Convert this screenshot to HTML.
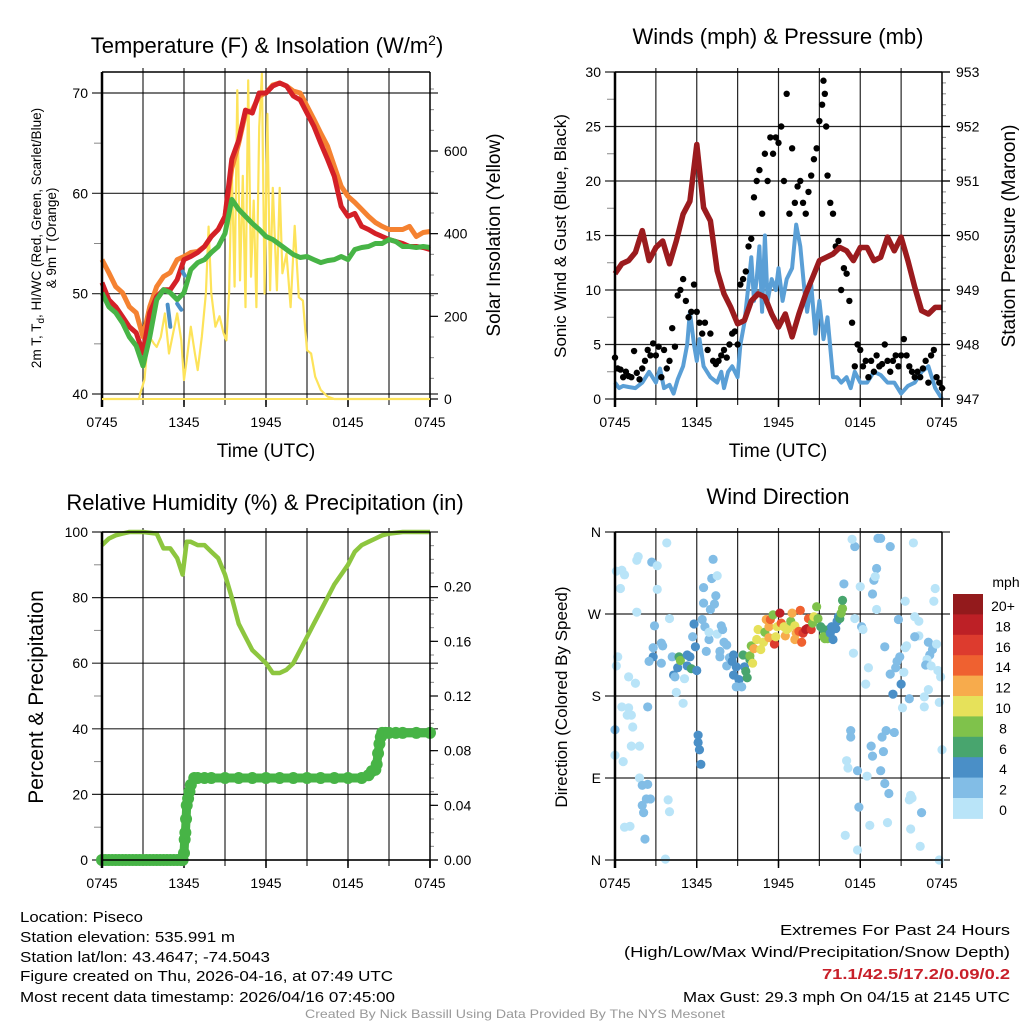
<!DOCTYPE html>
<html><head><meta charset="utf-8"><style>
html,body{margin:0;padding:0;background:#fff;}
svg{display:block;font-family:"Liberation Sans",sans-serif;}
</style></head><body>
<svg id="fig" width="1024" height="1024" viewBox="0 0 1024 1024" xmlns="http://www.w3.org/2000/svg">
<g id="layer"></g>
<g font-size="15" fill="#000">
<text x="20" y="922" textLength="123" lengthAdjust="spacingAndGlyphs">Location: Piseco</text>
<text x="20" y="942" textLength="215" lengthAdjust="spacingAndGlyphs">Station elevation: 535.991 m</text>
<text x="20" y="962" textLength="250" lengthAdjust="spacingAndGlyphs">Station lat/lon: 43.4647; -74.5043</text>
<text x="20" y="981" textLength="373" lengthAdjust="spacingAndGlyphs">Figure created on Thu, 2026-04-16, at 07:49 UTC</text>
<text x="20" y="1002" textLength="375" lengthAdjust="spacingAndGlyphs">Most recent data timestamp: 2026/04/16 07:45:00</text>
</g>
<g font-size="15" fill="#000">
<text x="780" y="935" textLength="230" lengthAdjust="spacingAndGlyphs">Extremes For Past 24 Hours</text>
<text x="624" y="957" textLength="386" lengthAdjust="spacingAndGlyphs">(High/Low/Max Wind/Precipitation/Snow Depth)</text>
<text x="822" y="979" textLength="188" lengthAdjust="spacingAndGlyphs" font-weight="bold" fill="#c8202a">71.1/42.5/17.2/0.09/0.2</text>
<text x="683" y="1002" textLength="327" lengthAdjust="spacingAndGlyphs">Max Gust: 29.3 mph On 04/15 at 2145 UTC</text>
</g>
<text x="515" y="1018" text-anchor="middle" font-size="12" fill="#999" textLength="420" lengthAdjust="spacingAndGlyphs">Created By Nick Bassill Using Data Provided By The NYS Mesonet</text>
</svg>
<script>
// ---------- DATA ----------
const xTickLabels = ["0745","1345","1945","0145","0745"];
// Panel 1 (hours since 0745 UTC)
const tHours = [0,0.5,1,1.5,2,2.5,3,3.5,4,4.5,5,5.5,6,6.5,7,7.5,8,8.5,9,9.5,10,10.5,11,11.5,12,12.5,13,13.5,14,14.5,15,15.5,16,16.5,17,17.5,18,18.5,19,19.5,20,20.5,21,21.5,22,22.5,23,23.5,24];
const temp2m = [51.1,49.4,48.7,47.7,46.7,46.1,44.1,48.1,49.7,50.4,50.4,51.4,53.4,53.7,54.1,54.7,55.7,56.4,57.7,63.4,65.3,68.3,68.0,70.0,70.0,70.7,71.0,70.7,69.7,69.3,68.0,66.7,65.0,63.4,61.7,58.7,57.7,58.0,56.7,56.4,56.0,55.7,55.4,55.2,55.0,54.7,54.7,54.6,54.4];
const temp9m = [53.4,52.1,50.7,50.1,48.7,48.1,45.7,48.7,50.7,51.7,52.1,53.4,53.7,54.1,54.2,54.7,55.7,56.4,57.7,62.5,65.0,68.0,68.3,69.7,70.0,70.8,71.0,70.7,70.2,70.0,68.7,67.4,66.0,64.7,62.7,60.7,59.7,59.1,58.4,57.7,57.1,56.7,56.4,56.4,56.4,56.7,55.7,56.1,56.2];
const dewpt = [50.1,48.7,48.1,47.1,45.7,44.8,42.8,45.7,49.4,50.4,50.1,49.4,50.1,52.4,53.1,53.4,54.1,54.7,56.0,59.4,58.4,57.7,57.0,56.4,55.7,55.4,54.9,54.4,53.9,53.6,53.7,53.4,53.1,53.3,53.4,53.7,53.4,54.4,54.6,54.7,55.0,55.0,55.4,55.2,54.7,54.7,54.6,54.7,54.6];
const hiwcHours = [4.8,4.9,5.0,null,5.5,5.7,5.8,null,5.9,6.05];
const hiwcVals = [48.9,47.8,46.7,null,49.0,48.6,48.4,null,52.2,51.8];
const solHours = [0,2.7,2.8,3.1,3.3,3.5,3.8,4,4.3,4.6,4.9,5.2,5.5,5.8,6.0,6.2,6.5,6.8,7,7.3,7.6,7.8,8.0,8.3,8.6,8.9,9.1,9.3,9.5,9.7,9.9,10.1,10.3,10.5,10.7,10.9,11.1,11.3,11.5,11.7,11.9,12.1,12.3,12.5,12.8,13,13.2,13.5,13.8,14.1,14.4,14.7,15,15.3,15.6,16,16.5,17,24];
const solar = [0,0,14,46,118,150,134,126,150,207,110,159,207,142,46,94,175,110,70,150,256,417,256,175,200,159,142,256,560,272,747,287,540,222,771,296,480,222,658,787,255,690,263,511,263,511,304,352,222,419,246,238,118,110,54,22,6,0,0];
// Panel 2
const pHours = [0,0.5,1,1.5,2,2.5,3,3.5,4,4.5,5,5.5,6,6.5,7,7.5,8,8.5,9,9.5,10,10.5,11,11.5,12,12.5,13,13.5,14,14.5,15,15.5,16,16.5,17,17.5,18,18.5,19,19.5,20,20.5,21,21.5,22,22.5,23,23.5,24];
const pressure = [949.30,949.48,949.54,949.69,950.09,949.54,949.78,949.90,949.48,949.90,950.39,950.63,951.67,950.51,950.27,949.35,948.93,948.68,948.38,948.44,948.80,948.93,948.87,948.56,948.32,948.56,948.14,948.56,948.93,949.23,949.54,949.60,949.66,949.78,949.72,949.54,949.78,949.78,949.54,949.60,949.97,949.72,949.97,949.54,949.05,948.62,948.56,948.68,948.68];
const windHours = [0,0.3,0.6,1,1.5,2,2.5,3,3.3,3.6,4,4.3,4.6,5,5.3,5.5,5.8,6,6.2,6.5,7,7.5,7.8,8,8.3,8.6,9,9.2,9.5,9.8,10,10.2,10.4,10.6,10.8,11,11.2,11.5,11.8,12,12.3,12.6,13,13.3,13.6,13.9,14.1,14.4,14.7,15,15.3,15.6,16,16.3,16.6,17,17.3,17.6,18,18.5,19,19.5,20,20.5,21,21.5,22,22.5,23,23.5,24];
const windSpd = [1.5,1,1.2,1.1,1,1.5,2.5,1.5,2.8,1,1.3,0.5,1.8,3,5,8,5,3.5,5.5,3,2,1.5,2.5,1,2.5,3,2,5,7,10.5,13,9,11,14,8,15,9,11,10,12,9,11,12,16,14,10,8,10.5,6,9,5.5,7.5,2,2,1.5,2,1,2.5,1.5,1.5,2.5,2.2,1.5,1.5,0.5,1.2,1.5,2.5,3,1,0];
const gustHours = [0,0.2,0.4,0.6,0.8,1,1.2,1.4,1.6,1.8,2,2.2,2.4,2.6,2.8,3,3.2,3.4,3.6,3.8,4,4.2,4.4,4.6,4.8,5,5.2,5.4,5.6,5.8,6,6.2,6.4,6.6,6.8,7,7.2,7.4,7.6,7.8,8,8.2,8.4,8.6,8.8,9,9.2,9.4,9.6,9.8,10,10.2,10.4,10.6,10.8,11,11.2,11.4,11.6,11.8,12,12.2,12.4,12.6,12.8,13,13.2,13.4,13.6,13.8,14,14.2,14.4,14.6,14.8,15,15.2,15.3,15.4,15.5,15.6,15.8,16,16.2,16.4,16.6,16.8,17,17.2,17.4,17.6,17.8,18,18.2,18.4,18.6,18.8,19,19.2,19.4,19.6,19.8,20,20.2,20.4,20.6,20.8,21,21.2,21.4,21.6,21.8,22,22.2,22.4,22.6,22.8,23,23.2,23.4,23.6,23.8,24];
const gustSpd = [3.8,2.8,2.7,2,2.5,2.1,2,4.4,2.4,1.8,2.8,3.5,4.5,4,5.1,4,4.8,2,4.5,2.8,3.5,6.5,4.8,9.5,10,11,9,7.5,8,10.5,8,7,6,7,4.5,6,3.5,3.2,3.5,4,4.5,3.8,5,6,6.2,5,10.5,11,11.7,14,14.7,18.5,20,21,17,22.5,20,24,22.5,24,23.5,25,20,28,17,23,18,19.5,20,18,17,19,20.5,22,23,25.5,27,29.2,28,25,20.5,18,17,14,14.5,10,12,11.5,9,7,3,5,4.5,3,3.5,2,3.5,2.5,4,3,3.2,5,3.5,2.5,3.5,4,3,4,5.5,4,3,2.5,2,2.5,2,2.8,3.5,1.5,4,4.5,2,1.5,1];
// Panel 3
const rhHours = [0,0.5,1,1.5,2,3,4,4.5,5,5.5,5.9,6.2,6.5,7,7.5,8,8.5,9,9.5,10,10.5,11,11.5,12,12.5,13,13.5,14,14.5,15,15.5,16,16.5,17,17.5,18,18.5,19,19.5,20,20.5,21,22,24];
const rh = [96,98,99,99.5,100,100,99.5,95,95,92,87,97,97,96,96,94,92,87,80,72,68,64,62,60,57,57,58,60,64,68,72,76,80,84,87,90,94,96,97,98,99,99.5,100,100];
const prHours = [0,0.25,0.5,0.75,1,1.25,1.5,1.75,2,2.25,2.5,2.75,3,3.25,3.5,3.75,4,4.25,4.5,4.75,5,5.25,5.5,5.75,5.9,6.0,6.05,6.1,6.15,6.2,6.3,6.4,6.5,6.75,7,7.5,8,9,10,11,12,13,14,15,16,17,18,19,19.5,19.75,20,20.1,20.2,20.3,20.4,20.5,20.75,21,21.5,22,23,24];
const precip = [0,0,0,0,0,0,0,0,0,0,0,0,0,0,0,0,0,0,0,0,0,0,0,0,0,0.005,0.015,0.02,0.03,0.04,0.045,0.05,0.055,0.06,0.06,0.06,0.06,0.06,0.06,0.06,0.06,0.06,0.06,0.06,0.06,0.06,0.06,0.06,0.062,0.065,0.066,0.07,0.078,0.085,0.09,0.093,0.093,0.093,0.093,0.093,0.093,0.093];
// Panel 4 : hour, direction deg, speed mph
const dirHours = [0.1,0.5,0.7,0.4,0.2,0.1,0,0,0.6,1,1.5,1.6,1.7,1.6,0.5,1,0.9,1.2,1.3,1.2,1.8,1.8,2,2.4,2,2.1,2.3,2.6,0.7,1.1,2.2,2.4,2.7,3.1,3.1,2.9,2.8,2.8,2.5,3.4,3.5,3.4,3.8,4,4.2,4.3,4.6,4.4,4.5,5.1,5,4.7,4.8,5.3,5.5,5.3,5.6,6,5.8,5.9,5.7,3.9,4,3.7,6.1,6.1,6.2,6.3,6.4,6.5,6.6,6.7,6.9,7,7.3,7.4,7.1,6.5,7.2,7.5,6.9,7.5,7.8,7.9,8,8.2,7.7,7.7,8.2,8.4,8.6,8.7,8.7,8.9,9.1,8.9,9.3,9.4,9.5,9.6,9.9,9.7,9.9,10.1,10,10.2,10.4,10.5,10.7,10.9,11,11.1,11.3,11.3,11.4,11.6,11.7,11.8,11.9,12.1,12.2,12.4,12.5,12.6,12.7,12.9,13,13.2,13.2,13.3,13.5,13.6,13.7,13.8,14,14.1,14.2,14.4,14.5,14.6,14.8,14.9,15.1,15.3,15.3,15.4,15.6,15.7,15.8,15.9,16,16.2,16.3,16.4,16.5,16.6,16.7,16.7,16.8,17.6,17.4,18,17.6,18.1,18.2,17.5,18.6,18.4,18.9,19,19.2,19.1,19.2,19.3,19.5,20.2,19.8,20.8,20.9,20.7,20.6,20.2,20.4,21,21.2,21.3,21.4,21.9,21.3,22,22.3,22.3,22,23,23.3,23.1,22.9,22.8,23.2,23.5,23.4,23.6,23.7,23.9,23,22.7,21.6,22.7,23.8,21.1,17.3,17.3,19.9,20.5,19.6,18.8,18.9,19.7,17,17.1,17.8,18.5,19.5,19.8,20.1,21.7,21.8,21.6,22.5,17.9,18.7,20,21.7,16.9,22.4,17.8,23.8,24];
const dirDeg = [317,318,313,298,223,213,143,115,108,201,194,329,333,272,168,167,159,159,146,125,125,90,82,83,60,52,67,67,36,37,23,168,327,323,297,257,233,223,218,238,235,216,348,265,223,203,211,201,184,199,172,223,219,225,223,213,210,208,259,234,245,66,53,1,137,129,121,105,264,282,256,229,242,275,281,290,309,299,330,312,250,248,257,253,239,236,229,223,213,222,218,225,203,212,198,190,190,225,212,207,220,200,224,216,235,232,242,253,231,239,250,264,256,244,264,269,237,245,256,271,260,256,246,253,254,262,271,257,242,249,251,274,239,249,253,254,265,253,260,267,278,265,256,253,245,243,243,253,249,256,242,254,262,267,265,271,276,285,303,344,352,300,265,256,253,227,211,193,292,307,320,311,275,353,353,344,234,264,223,218,211,204,182,193,206,233,235,348,284,267,262,246,245,239,231,225,220,214,213,298,284,237,208,201,187,179,177,168,173,167,142,135,142,140,135,125,114,119,109,101,98,92,98,84,73,71,68,66,52,58,38,41,34,27,15,11,0,121];
const dirSpd = [0,0,0,0,0,0,3,0,0,0,0,0,0,0,0,0,0,0,0,0,0,0,2,2,2,2,2,2,0,0,2,3,2,1,0,2,2,4,2,2,2,2,0,1,2,4,4,2,0,0,0,6,8,4,4,4,6,4,4,4,2,0,0,0,5,5,5,5,2,3,2,2,2,2,2,2,2,2,2,0,0,0,2,2,2,2,2,2,2,3,4,4,4,4,4,3,3,6,4,6,6,6,8,10,8,12,10,10,10,10,8,12,12,12,14,8,16,10,10,18,14,10,12,10,10,8,12,10,12,12,14,14,14,16,18,18,14,16,8,10,8,8,6,6,8,8,8,6,4,4,4,4,4,4,6,8,8,6,3,2,0,0,0,2,0,0,0,0,2,2,2,0,0,2,2,3,3,3,3,3,2,3,4,4,0,0,0,0,0,0,0,0,2,2,2,2,0,3,0,0,0,0,0,0,0,0,3,0,0,0,2,2,2,3,3,3,2,2,0,0,2,0,2,2,2,0,0,0,2,2,0,0,0,0,0,0,0,0];
const speedBins = ["0","2","4","6","8","10","12","14","16","18","20+"];
const speedColors = ["#b9e4f8","#82bde6","#4a8fc7","#48a56e","#7fc24b","#e6e15a","#f7ab4c","#ef6130","#dd3b2e","#bd2026","#931a1c"];

// ---------- DRAWING ----------
const NS = "http://www.w3.org/2000/svg";
const layer = document.getElementById('layer');
function mk(tag, attrs, parent){
  const e = document.createElementNS(NS, tag);
  for (const k in attrs) e.setAttribute(k, attrs[k]);
  (parent||layer).appendChild(e); return e;
}
function scale(d0,d1,r0,r1){ return v => r0 + (v-d0)*(r1-r0)/(d1-d0); }
function pathFrom(xs, ys, fx, fy){
  let d = "", pen = false;
  for (let i=0;i<xs.length;i++){
    if (xs[i]===null || ys[i]===null){ pen=false; continue; }
    d += (pen?"L":"M") + fx(xs[i]).toFixed(1) + "," + fy(ys[i]).toFixed(1);
    pen = true;
  }
  return d;
}
function panelFrame(g, L, R, T, B, fx){
  for (let h=3; h<24; h+=3){
    const gl = mk('line',{x1:fx(h),x2:fx(h),y1:T-4,y2:B+6,stroke:'#000','stroke-width':1.2,opacity:0.85},g);
    
    
  }
  xTickLabels.forEach((lab,i)=>{
    const h = i*6;
    const t = mk('text',{x:fx(h),y:B+28,'text-anchor':'middle','font-size':14},g);
    t.textContent = lab;
    
    
    mk('line',{x1:fx(h),x2:fx(h),y1:B,y2:B+8,stroke:'#000','stroke-width':1.5},g);
  });
}
function hgrid(g, L, R, y, lab){
  const gl = mk('line',{x1:L-10,x2:R+8,y1:y,y2:y,stroke:'#000','stroke-width':1.2,opacity:0.85},g);
  
  
  const t = mk('text',{x:L-14,y:y+5,'text-anchor':'end','font-size':14},g);
  t.textContent = lab;
  
  
}
function rightTicks(g, R, vals, fy, fmt, minorVals){
  minorVals.forEach(v=>mk('line',{x1:R,x2:R+4,y1:fy(v),y2:fy(v),stroke:'#888','stroke-width':1},g));
  vals.forEach(v=>{
    mk('line',{x1:R,x2:R+8,y1:fy(v),y2:fy(v),stroke:'#000','stroke-width':1.2},g);
    const t = mk('text',{x:R+14,y:fy(v)+5,'font-size':14},g);
    t.textContent = fmt(v);
    
    
  });
}
function vlabel(g, x, y, txt, size, name){
  const t = mk('text',{x:x,y:y,'text-anchor':'middle','font-size':size,transform:`rotate(-90 ${x} ${y})`},g);
  t.textContent = txt;
  
  
  return t;
}
function title(g,x,y,txt,name){
  const t = mk('text',{x:x,y:y,'text-anchor':'middle','font-size':22},g);
  t.textContent = txt;
  
  
  return t;
}
function axisLines(g,L,R,T,B){
  mk('line',{x1:L,x2:L,y1:T,y2:B+8,stroke:'#000','stroke-width':2.5},g);
  mk('line',{x1:R,x2:R,y1:T,y2:B+8,stroke:'#000','stroke-width':1.5},g);
  mk('line',{x1:L,x2:R,y1:T,y2:T,stroke:'#000','stroke-width':1.5},g);
  mk('line',{x1:L,x2:R,y1:B,y2:B,stroke:'#000','stroke-width':1.5},g);
}

// ===== Panel 1 =====
(function(){
  const g = mk('g',{});
  
  
  const L=102,R=430,T=72,B=399;
  const fx = scale(0,24,L,R), fy = scale(40,70,394,93), fs = scale(0,600,399,151);
  panelFrame(g,L,R,T,B,fx);
  [40,50,60,70].forEach(v=>hgrid(g,L,R,fy(v),String(v)));
  [45,55,65].forEach(v=>mk('line',{x1:L-8,x2:L,y1:fy(v),y2:fy(v),stroke:'#888'},g));
  const mins=[]; for(let v=50;v<=750;v+=50) if(v%200) mins.push(v);
  rightTicks(g,R,[0,200,400,600],fs,v=>String(v),mins);
  const sp = mk('path',{d:pathFrom(solHours,solar,fx,fs),fill:'none',stroke:'#fde35a','stroke-width':2.2,'stroke-linejoin':'round'},g);
  
  
  const o = mk('path',{d:pathFrom(tHours,temp9m,fx,fy),fill:'none',stroke:'#f58231','stroke-width':5,'stroke-linejoin':'round'},g);
  
  
  const r = mk('path',{d:pathFrom(tHours,temp2m,fx,fy),fill:'none',stroke:'#d42027','stroke-width':5,'stroke-linejoin':'round'},g);
  
  
  const gr = mk('path',{d:pathFrom(tHours,dewpt,fx,fy),fill:'none',stroke:'#47b446','stroke-width':5,'stroke-linejoin':'round'},g);
  
  
  const bl = mk('path',{d:pathFrom(hiwcHours,hiwcVals,fx,fy),fill:'none',stroke:'#4a8fc7','stroke-width':4,'stroke-linecap':'round'},g);
  
  
  axisLines(g,L,R,T,B);
  mk('line',{x1:L,x2:R,y1:B,y2:B,stroke:'#fde35a','stroke-width':2},g);
  title(g,267,53,"",'temperature-title');
  const tt = g.lastChild;
  tt.innerHTML = 'Temperature (F) &amp; Insolation (W/m<tspan dy="-8" font-size="14">2</tspan><tspan dy="8">)</tspan>';
  const xt = mk('text',{x:266,y:457,'text-anchor':'middle','font-size':19},g);
  xt.textContent='Time (UTC)';
  
  
  const yl = vlabel(g,41,238,'',13.5,'y-axis-title');
  yl.innerHTML = '2m T, T<tspan dy="3" font-size="10">d</tspan><tspan dy="-3">, HI/WC (Red, Green, Scarlet/Blue)</tspan>';
  vlabel(g,56,238,'& 9m T (Orange)',13.5,'y-axis-title-line2');
  vlabel(g,500,235,'Solar Insolation (Yellow)',19,'y2-axis-title');
})();

// ===== Panel 2 =====
(function(){
  const g = mk('g',{});
  
  
  const L=615,R=942,T=72,B=399;
  const fx = scale(0,24,L,R), fy = scale(0,30,399,72), fp = scale(947,953,399,72);
  panelFrame(g,L,R,T,B,fx);
  [0,5,10,15,20,25,30].forEach(v=>hgrid(g,L,R,fy(v),String(v)));
  [2.5,7.5,12.5,17.5,22.5,27.5].forEach(v=>mk('line',{x1:L-8,x2:L,y1:fy(v),y2:fy(v),stroke:'#888'},g));
  const mins=[]; for(let v=947.2;v<953;v+=0.2) mins.push(v);
  rightTicks(g,R,[947,948,949,950,951,952,953],fp,v=>String(v),mins);
  const w = mk('path',{d:pathFrom(windHours,windSpd,fx,fy),fill:'none',stroke:'#5a9fd6','stroke-width':4,'stroke-linejoin':'round'},g);
  
  
  gustHours.forEach((h,i)=>{
    const c = mk('circle',{cx:fx(h),cy:fy(gustSpd[i]),r:3.2,fill:'#000'},g);
    
    
  });
  const p = mk('path',{d:pathFrom(pHours,pressure,fx,fp),fill:'none',stroke:'#9b1b1e','stroke-width':5.5,'stroke-linejoin':'round'},g);
  
  
  axisLines(g,L,R,T,B);
  title(g,778,44,'Winds (mph) & Pressure (mb)','winds-title');
  const xt = mk('text',{x:778,y:457,'text-anchor':'middle','font-size':19},g);
  xt.textContent='Time (UTC)';
  
  
  vlabel(g,566,236,'Sonic Wind & Gust (Blue, Black)',17,'y-axis-title');
  vlabel(g,1015,236,'Station Pressure (Maroon)',19,'y2-axis-title');
})();

// ===== Panel 3 =====
(function(){
  const g = mk('g',{});
  
  
  const L=102,R=430,T=532,B=860;
  const fx = scale(0,24,L,R), fy = scale(0,100,860,532), fp = scale(0,0.24,860,532);
  panelFrame(g,L,R,T,B,fx);
  [0,20,40,60,80,100].forEach(v=>hgrid(g,L,R,fy(v),String(v)));
  [10,30,50,70,90].forEach(v=>mk('line',{x1:L-8,x2:L,y1:fy(v),y2:fy(v),stroke:'#888'},g));
  const mins=[]; for(let v=0.01;v<0.24;v+=0.01) mins.push(v);
  rightTicks(g,R,[0,0.04,0.08,0.12,0.16,0.2],fp,v=>v.toFixed(2),mins);
  const rl = mk('path',{d:pathFrom(rhHours,rh,fx,fy),fill:'none',stroke:'#8dc63f','stroke-width':4.5,'stroke-linejoin':'round'},g);
  
  
  const pl = mk('path',{d:pathFrom(prHours,precip,fx,fp),fill:'none',stroke:'#47b446','stroke-width':9,'stroke-linejoin':'round'},g);
  
  
  prHours.forEach((h,i)=>{
    const c = mk('circle',{cx:fx(h),cy:fp(precip[i]),r:6,fill:'#47b446'},g);
    
    
  });
  axisLines(g,L,R,T,B);
  title(g,265,510,'Relative Humidity (%) & Precipitation (in)','humidity-title');
  vlabel(g,43,697,'Percent & Precipitation',21,'y-axis-title');
})();

// ===== Panel 4 =====
(function(){
  const g = mk('g',{});
  
  
  const L=615,R=942,T=532,B=860;
  const fx = scale(0,24,L,R), fy = scale(0,360,860,532);
  panelFrame(g,L,R,T,B,fx);
  [[0,'N'],[90,'E'],[180,'S'],[270,'W'],[360,'N']].forEach(a=>hgrid(g,L,R,fy(a[0]),a[1]));
  dirHours.forEach((h,i)=>{
    const s = dirSpd[i] === undefined ? 0 : dirSpd[i];
    const bin = Math.min(10, Math.floor(s/2));
    const c = mk('circle',{cx:fx(h),cy:fy(dirDeg[i]),r:4.6,fill:speedColors[bin]},g);
    
    
  });
  axisLines(g,L,R,T,B);
  title(g,778,504,'Wind Direction','direction-title');
  vlabel(g,567,697,'Direction (Colored By Speed)',17,'y-axis-title');
  const cb = mk('g',{},g);
  
  
  const top=594, h=20.4;
  speedBins.forEach((lab,i)=>{
    const k = speedBins.length-1-i;
    const rr = mk('rect',{x:953,y:top+i*h,width:30,height:h+0.5,fill:speedColors[k]},cb);
    
    
    const t = mk('text',{x:1003,y:top+i*h+17,'text-anchor':'middle','font-size':14},cb);
    t.textContent = speedBins[k];
    
    
  });
  const u = mk('text',{x:1006,y:587,'text-anchor':'middle','font-size':14},cb);
  u.textContent='mph';
  
  
})();
</script>
</body></html>
